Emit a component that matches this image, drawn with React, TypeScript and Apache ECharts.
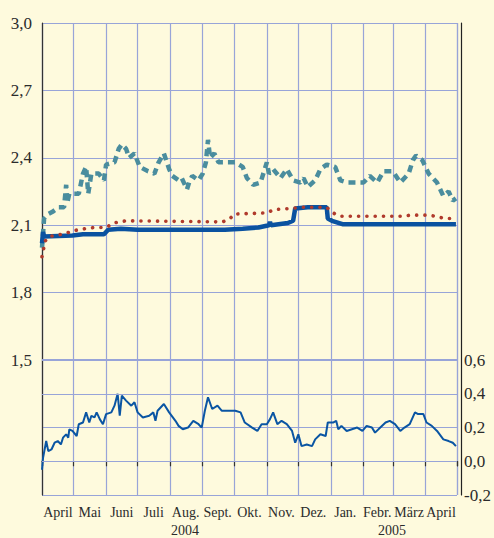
import React, { useEffect, useRef } from 'react';
import * as echarts from 'echarts';

const monthLabels = ['April', 'Mai', 'Juni', 'Juli', 'Aug.', 'Sept.', 'Okt.', 'Nov.', 'Dez.', 'Jan.', 'Febr.', 'März', 'April'];
const yearLabels = ['2004', '2005'];

const dashedDates = [
  '2004-04-01', '2004-04-03', '2004-04-07', '2004-04-11', '2004-04-17', '2004-04-22', '2004-04-24', '2004-04-25', '2004-04-27',
  '2004-05-06', '2004-05-10', '2004-05-13', '2004-05-15', '2004-05-18', '2004-05-25', '2004-05-30',
  '2004-06-01', '2004-06-09', '2004-06-13', '2004-06-16', '2004-06-20', '2004-06-23', '2004-06-28',
  '2004-07-03', '2004-07-11', '2004-07-17', '2004-07-21', '2004-07-26', '2004-07-31',
  '2004-08-03', '2004-08-09', '2004-08-12', '2004-08-17', '2004-08-19', '2004-08-22', '2004-08-28',
  '2004-09-01', '2004-09-04', '2004-09-06', '2004-09-08', '2004-09-12', '2004-09-16', '2004-09-22', '2004-09-27',
  '2004-10-02', '2004-10-09', '2004-10-13', '2004-10-19', '2004-10-26', '2004-10-30',
  '2004-11-01', '2004-11-03', '2004-11-07', '2004-11-14', '2004-11-20', '2004-11-26',
  '2004-12-03', '2004-12-06', '2004-12-10', '2004-12-17', '2004-12-22', '2004-12-28',
  '2005-01-05', '2005-01-10', '2005-01-17', '2005-01-24',
  '2005-02-01', '2005-02-07', '2005-02-14', '2005-02-20',
  '2005-03-01', '2005-03-08', '2005-03-16', '2005-03-20', '2005-03-23', '2005-03-29',
  '2005-04-04', '2005-04-12', '2005-04-18', '2005-04-23', '2005-04-27', '2005-04-30'
];
const dashedValues = [
  2.00, 2.13, 2.15, 2.16, 2.18, 2.18, 2.28, 2.20, 2.24,
  2.24, 2.33, 2.36, 2.24, 2.33, 2.33, 2.30,
  2.37, 2.38, 2.44, 2.46, 2.44, 2.40, 2.42,
  2.36, 2.34, 2.33, 2.38, 2.42, 2.35,
  2.32, 2.30, 2.31, 2.26, 2.29, 2.32, 2.30,
  2.33, 2.38, 2.48, 2.40, 2.42, 2.38, 2.38, 2.38,
  2.38, 2.36, 2.31, 2.28, 2.29, 2.35,
  2.38, 2.33, 2.35, 2.31, 2.35, 2.30,
  2.29, 2.31, 2.27, 2.30, 2.35, 2.37,
  2.36, 2.30, 2.29, 2.29,
  2.29, 2.32, 2.29, 2.34,
  2.34, 2.29, 2.33, 2.39, 2.41, 2.39,
  2.33, 2.29, 2.23, 2.25, 2.21, 2.22
];

const dottedDates = [
  '2004-04-01', '2004-04-04', '2004-04-08', '2004-04-20', '2004-05-05', '2004-05-20', '2004-06-01', '2004-06-08',
  '2004-06-20', '2004-09-20', '2004-09-27', '2004-10-01', '2004-11-01', '2004-11-08', '2004-11-25', '2004-12-02',
  '2004-12-28', '2005-01-03', '2005-01-10', '2005-03-08', '2005-03-18', '2005-04-05', '2005-04-20', '2005-04-30'
];
const dottedValues = [
  1.96, 2.03, 2.05, 2.06, 2.08, 2.09, 2.09, 2.11,
  2.12, 2.115, 2.13, 2.15, 2.155, 2.17, 2.175, 2.18,
  2.18, 2.155, 2.14, 2.14, 2.145, 2.145, 2.13, 2.13
];

const solidDates = [
  '2004-04-01', '2004-04-02', '2004-04-03', '2004-04-30', '2004-05-10', '2004-05-30', '2004-06-03', '2004-06-15',
  '2004-07-01', '2004-09-22', '2004-10-09', '2004-10-24', '2004-11-03', '2004-11-04', '2004-11-05', '2004-11-21',
  '2004-11-26', '2004-11-28', '2004-12-10', '2004-12-28', '2004-12-29', '2005-01-02', '2005-01-12', '2005-04-30'
];
const solidValues = [
  2.02, 2.07, 2.05, 2.055, 2.06, 2.06, 2.08, 2.085,
  2.08, 2.08, 2.085, 2.09, 2.10, 2.115, 2.10, 2.11,
  2.12, 2.175, 2.18, 2.18, 2.13, 2.12, 2.105, 2.105
];

const spreadDates = [
  '2004-04-01', '2004-04-02', '2004-04-05', '2004-04-07', '2004-04-10', '2004-04-13', '2004-04-16', '2004-04-19',
  '2004-04-21', '2004-04-24', '2004-04-26', '2004-04-27', '2004-04-30', '2004-05-04', '2004-05-06', '2004-05-10',
  '2004-05-13', '2004-05-16', '2004-05-18', '2004-05-21', '2004-05-23', '2004-05-26', '2004-05-29', '2004-06-01',
  '2004-06-06', '2004-06-09', '2004-06-12', '2004-06-14', '2004-06-16', '2004-06-20', '2004-06-25', '2004-06-28',
  '2004-07-01', '2004-07-06', '2004-07-12', '2004-07-16', '2004-07-18', '2004-07-20', '2004-07-26', '2004-07-31',
  '2004-08-06', '2004-08-09', '2004-08-13', '2004-08-18', '2004-08-23', '2004-08-28', '2004-08-31', '2004-09-03',
  '2004-09-06', '2004-09-10', '2004-09-15', '2004-09-19', '2004-09-25', '2004-10-02', '2004-10-07', '2004-10-11',
  '2004-10-18', '2004-10-23', '2004-10-27', '2004-11-01', '2004-11-04', '2004-11-07', '2004-11-11', '2004-11-15',
  '2004-11-20', '2004-11-25', '2004-11-28', '2004-12-01', '2004-12-04', '2004-12-09', '2004-12-14', '2004-12-17',
  '2004-12-22', '2004-12-27', '2004-12-29', '2005-01-03', '2005-01-06', '2005-01-08', '2005-01-11', '2005-01-16',
  '2005-01-21', '2005-01-26', '2005-01-31', '2005-02-04', '2005-02-09', '2005-02-12', '2005-02-17', '2005-02-22',
  '2005-02-26', '2005-03-03', '2005-03-08', '2005-03-12', '2005-03-17', '2005-03-22', '2005-03-25', '2005-03-30',
  '2005-04-02', '2005-04-07', '2005-04-12', '2005-04-18', '2005-04-23', '2005-04-27', '2005-04-30'
];
const spreadValues = [
  -0.05, 0.02, 0.12, 0.06, 0.07, 0.11, 0.12, 0.10,
  0.14, 0.16, 0.14, 0.19, 0.18, 0.15, 0.22, 0.23,
  0.29, 0.23, 0.27, 0.26, 0.29, 0.25, 0.22, 0.28,
  0.29, 0.33, 0.40, 0.27, 0.39, 0.36, 0.33, 0.35,
  0.29, 0.26, 0.27, 0.29, 0.24, 0.30, 0.34, 0.29,
  0.24, 0.21, 0.19, 0.20, 0.24, 0.22, 0.20, 0.30,
  0.38, 0.31, 0.33, 0.30, 0.30, 0.30, 0.29, 0.23,
  0.20, 0.18, 0.22, 0.22, 0.25, 0.29, 0.22, 0.24,
  0.22, 0.18, 0.11, 0.16, 0.09, 0.10, 0.09, 0.13,
  0.16, 0.15, 0.23, 0.23, 0.24, 0.19, 0.21, 0.18,
  0.19, 0.20, 0.18, 0.21, 0.20, 0.17, 0.20, 0.23,
  0.24, 0.22, 0.18, 0.20, 0.22, 0.29, 0.28, 0.28,
  0.23, 0.21, 0.18, 0.13, 0.12, 0.11, 0.09
];

const spreadGuides = [0.6, 0.4, 0.0];

const pair = (d: string[], v: number[]) => d.map((x, i) => [x, v[i]]);
const fmt = (v: number) => v.toFixed(1).replace('.', ',');

const FONT = 'Liberation Serif';
const GRID_COLOR = '#98a4d8';
const TEXT_COLOR = '#2b2b2b';

export default function App() {
  const ref = useRef<HTMLDivElement>(null);

  useEffect(() => {
    if (!ref.current) return;
    const chart = echarts.init(ref.current, undefined, { renderer: 'svg' });
    const DAY = 86400000;
    chart.setOption({
      animation: false,
      backgroundColor: '#fefadd',
      textStyle: { fontFamily: FONT },
      grid: { left: 42, right: 37, top: 23, bottom: 43, containLabel: false },
      xAxis: [
        {
          type: 'time',
          min: new Date(2004, 3, 1).getTime(),
          max: new Date(2005, 4, 1).getTime(),
          minInterval: 28 * DAY,
          maxInterval: 31 * DAY,
          axisLine: { show: true, lineStyle: { color: '#333', width: 1.2 } },
          axisTick: { show: true, length: 5, lineStyle: { color: '#333', width: 1.2 } },
          axisLabel: { show: false },
          splitLine: { show: true, lineStyle: { color: GRID_COLOR, width: 1.2 } }
        },
        {
          type: 'category',
          position: 'bottom',
          data: monthLabels,
          boundaryGap: true,
          axisLine: { show: false },
          axisTick: { show: false },
          splitLine: { show: false },
          axisLabel: {
            interval: 0,
            margin: 10,
            fontSize: 14,
            fontFamily: FONT,
            color: TEXT_COLOR,
            hideOverlap: false
          }
        }
      ],
      yAxis: [
        {
          type: 'value',
          position: 'left',
          min: 0.9,
          max: 3.0,
          interval: 0.3,
          axisLine: { show: true, lineStyle: { color: '#333', width: 1.2 } },
          axisTick: { show: false },
          axisLabel: {
            margin: 10,
            fontSize: 17,
            fontFamily: FONT,
            color: TEXT_COLOR,
            formatter: (v: number) => (v >= 1.49 ? fmt(v) : '')
          },
          splitLine: { show: true, lineStyle: { color: GRID_COLOR, width: 1.2 } }
        },
        {
          type: 'value',
          position: 'right',
          offset: 4,
          min: -0.2,
          max: 2.6,
          interval: 0.2,
          axisLine: { show: true, lineStyle: { color: '#222', width: 1.2 } },
          axisTick: { show: false },
          axisLabel: {
            margin: 3,
            fontSize: 17,
            fontFamily: FONT,
            color: TEXT_COLOR,
            formatter: (v: number) => (v <= 0.61 ? fmt(v) : '')
          },
          splitLine: { show: false }
        }
      ],
      graphic: [
        {
          type: 'text',
          left: 186 - 15,
          top: 523,
          style: { text: yearLabels[0], fontSize: 14, fontFamily: FONT, fill: TEXT_COLOR }
        },
        {
          type: 'text',
          left: 393 - 15,
          top: 523,
          style: { text: yearLabels[1], fontSize: 14, fontFamily: FONT, fill: TEXT_COLOR }
        }
      ],
      series: [
        {
          type: 'line',
          name: 'spread',
          xAxisIndex: 0,
          yAxisIndex: 1,
          data: pair(spreadDates, spreadValues),
          showSymbol: false,
          lineStyle: { color: '#0a55a3', width: 2 },
          markLine: {
            silent: true,
            symbol: 'none',
            label: { show: false },
            data: spreadGuides.map((g) => ({
              yAxis: g,
              lineStyle: { color: GRID_COLOR, width: g === 0.6 ? 2.2 : 1.2, type: 'solid' }
            }))
          },
          z: 3
        },
        {
          type: 'line',
          name: 'dashed',
          xAxisIndex: 0,
          yAxisIndex: 0,
          data: pair(dashedDates, dashedValues),
          showSymbol: false,
          lineStyle: { color: '#4a8d9e', width: 4.5, type: [7, 5] },
          z: 3
        },
        {
          type: 'line',
          name: 'solid',
          xAxisIndex: 0,
          yAxisIndex: 0,
          data: pair(solidDates, solidValues),
          showSymbol: false,
          lineStyle: { color: '#0a52a0', width: 4.5 },
          z: 4
        },
        {
          type: 'line',
          name: 'dotted',
          xAxisIndex: 0,
          yAxisIndex: 0,
          data: pair(dottedDates, dottedValues),
          showSymbol: false,
          lineStyle: { color: '#b03a2c', width: 3.6, type: [0.1, 8.2], cap: 'round' },
          z: 5
        }
      ]
    });
    return () => chart.dispose();
  }, []);

  return (
    <div
      ref={ref}
      style={{ position: 'fixed', left: 0, top: 0, width: 494, height: 538 }}
    />
  );
}
